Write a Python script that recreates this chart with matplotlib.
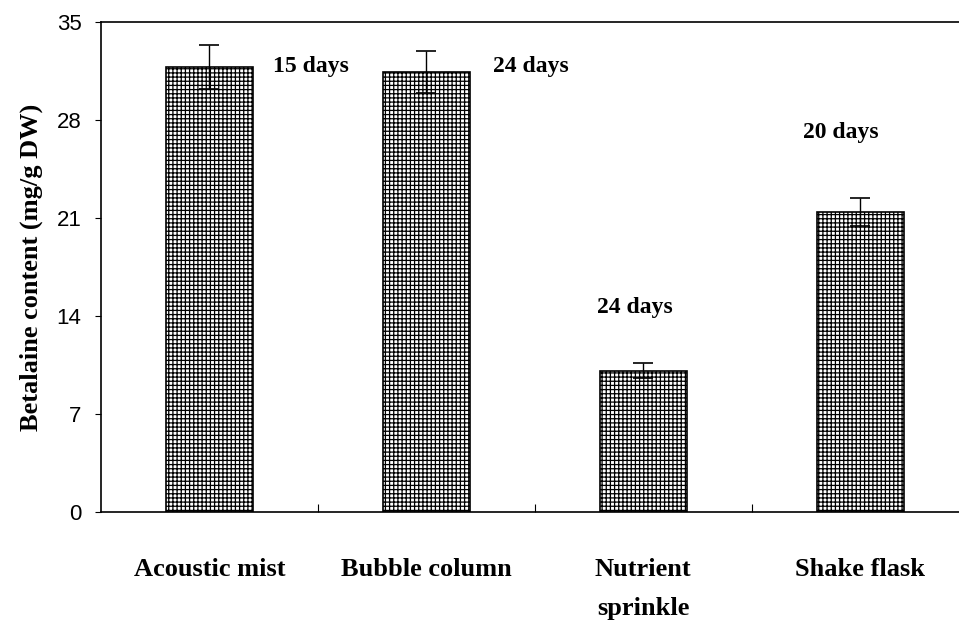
import matplotlib.pyplot as plt
import numpy as np

# data
systems = ["Acoustic mist", "Bubble column", "Nutrient\nsprinkle", "Shake flask"]
betalaine = [31.8, 31.4, 10.1, 21.4]
errors = [1.55, 1.5, 0.55, 1.0]
day_labels = ["15 days", "24 days", "24 days", "20 days"]
label_x = [0.47, 1.48, 1.96, 2.91]
label_y = [31.8, 31.8, 14.6, 27.1]

plt.rcParams['hatch.linewidth'] = 0.9
serif = ['Liberation Serif', 'DejaVu Serif']

fig = plt.figure(figsize=(9.59, 6.27), dpi=100)
ax = fig.add_axes([101/959, 115/627, 1.0 - 101/959 + 0.01, 490/627])

x = np.arange(len(systems))
ax.bar(x, betalaine, width=0.4, color='white', edgecolor='black',
       hatch='++++', linewidth=1.2, zorder=2)
ax.errorbar(x, betalaine, yerr=errors, fmt='none', ecolor='black',
            elinewidth=1.0, capsize=7, capthick=1.2, zorder=3)

for lx, ly, t in zip(label_x, label_y, day_labels):
    ax.text(lx, ly, t, ha='center', va='center', family=serif,
            fontweight='bold', fontsize=17)

ax.set_xlim(-0.5, 3.5)
ax.set_ylim(0, 35)
ax.set_yticks([0, 7, 14, 21, 28, 35])
ax.tick_params(axis='y', direction='out', length=4, width=0.8,
               labelsize=16, pad=10)
for lab in ax.get_yticklabels():
    lab.set_family(['Liberation Sans', 'DejaVu Sans'])

# ticks between categories, labels at category centres
ax.set_xticks([0.5, 1.5, 2.5])
ax.set_xticklabels([])
ax.tick_params(axis='x', direction='in', length=6, width=0.8)
for xi, name in zip(x, systems):
    ax.text(xi, -3.3, name, ha='center', va='top', family=serif,
            fontweight='bold', fontsize=19, linespacing=1.85,
            transform=ax.transData)

ax.set_ylabel("Betalaine content (mg/g DW)", family=serif,
              fontweight='bold', fontsize=19, labelpad=10)

for s in ['left', 'top', 'bottom']:
    ax.spines[s].set_linewidth(1.2)
ax.spines['right'].set_visible(False)

fig.savefig("out.png", dpi=100)
